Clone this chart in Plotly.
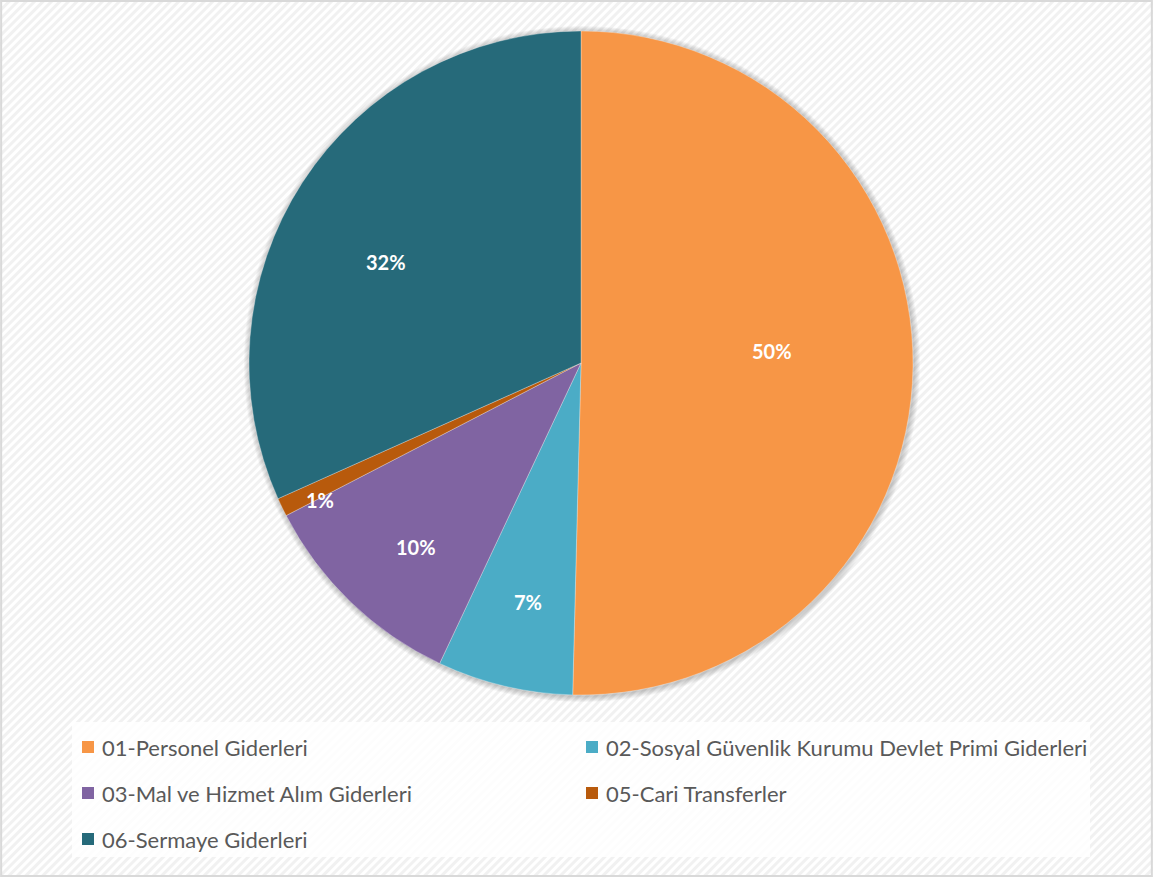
import math
import base64
import plotly.graph_objects as go

labels = [
    "01-Personel Giderleri",
    "02-Sosyal Güvenlik Kurumu Devlet Primi Giderleri",
    "03-Mal ve Hizmet Alım Giderleri",
    "05-Cari Transferler",
    "06-Sermaye Giderleri",
]
shares = [50.4, 6.6, 10.4, 0.9, 31.7]
colors = ["#F79646", "#4BACC6", "#8064A2", "#B85A0C", "#266A7A"]

W, H = 1153, 877
cx, cy, R = 581, 363, 332
FONT = "Lato, Open Sans, sans-serif"

# diagonal hatched background, like the office chart area texture
svg = (
    '<svg xmlns="http://www.w3.org/2000/svg" width="1153" height="877">'
    '<defs><pattern id="p" width="6" height="6" patternUnits="userSpaceOnUse" '
    'patternTransform="rotate(45)"><rect width="6" height="6" fill="#ffffff"/>'
    '<rect width="3" height="6" fill="#f1f1f1"/></pattern></defs>'
    '<rect width="1153" height="877" fill="url(#p)"/></svg>'
)
bg = "data:image/svg+xml;base64," + base64.b64encode(svg.encode()).decode()

fig = go.Figure(go.Pie(
    labels=labels,
    values=shares,
    sort=False,
    direction="clockwise",
    rotation=0,
    marker=dict(colors=colors, line=dict(color="rgba(255,255,255,0.6)", width=0.5)),
    textinfo="none",
    hoverinfo="label+percent",
    domain=dict(x=[(cx - R) / W, (cx + R) / W], y=[1 - (cy + R) / H, 1 - (cy - R) / H]),
))

# soft shadow around the pie
for k in range(1, 7):
    r = R + k
    fig.add_shape(type="circle", xref="paper", yref="paper", layer="below",
                  x0=(cx - r + 1) / W, x1=(cx + r + 1) / W,
                  y0=1 - (cy + r + 1) / H, y1=1 - (cy - r + 1) / H,
                  fillcolor="rgba(0,0,0,0.035)", line=dict(width=0))

# percentage labels placed along each slice's mid angle (small tweaks like excel's best fit)
label_r = [0.577, 0.737, 0.744, 0.888, 0.661]
label_da = [-4.3, -0.8, -2.0, -2.0, -5.5]
total = sum(shares)
cum = 0
for v, f, da in zip(shares, label_r, label_da):
    mid = (cum + v / 2) / total * 2 * math.pi + math.radians(da)
    cum += v
    px = cx + R * f * math.sin(mid)
    py = cy - R * f * math.cos(mid)
    fig.add_annotation(
        x=px / W, y=1 - py / H, xref="paper", yref="paper",
        xanchor="center", yanchor="middle",
        text="<b>%d%%</b>" % round(v / total * 100),
        showarrow=False,
        font=dict(family=FONT, size=20, color="white"),
    )

fig.add_layout_image(
    source=bg, xref="paper", yref="paper", x=0, y=1, sizex=1, sizey=1,
    sizing="stretch", layer="below", xanchor="left", yanchor="top",
)

# legend box: two columns, three rows
fig.add_shape(type="rect", xref="paper", yref="paper", layer="below",
              x0=72 / W, x1=1090 / W, y0=1 - 857 / H, y1=1 - 722 / H,
              fillcolor="rgba(255,255,255,0.85)", line=dict(width=0))
for i, (lab, col) in enumerate(zip(labels, colors)):
    lx = 82 + (i % 2) * 504
    ly = 747 + (i // 2) * 46
    fig.add_shape(type="rect", xref="paper", yref="paper",
                  x0=lx / W, x1=(lx + 12) / W, y0=1 - (ly + 6) / H, y1=1 - (ly - 6) / H,
                  fillcolor=col, line=dict(width=0))
    fig.add_annotation(x=(lx + 18) / W, y=1 - ly / H, xref="paper", yref="paper",
                       xanchor="left", yanchor="middle", text=lab, showarrow=False,
                       font=dict(family=FONT, size=22, color="#595959"))

fig.add_shape(type="rect", xref="paper", yref="paper", x0=0.001, y0=0.001, x1=0.999, y1=0.999,
              line=dict(color="#d9d9d9", width=2))

fig.update_layout(
    width=W, height=H,
    margin=dict(l=0, r=0, t=0, b=0),
    paper_bgcolor="white",
    showlegend=False,
)

fig.write_html("out.html", config={"displayModeBar": False},
               post_script="document.body.style.margin='0';")
